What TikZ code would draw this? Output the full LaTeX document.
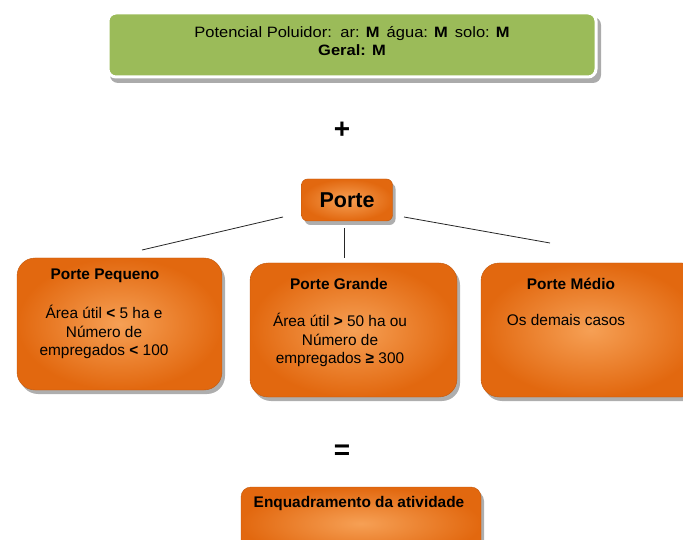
\documentclass[tikz,border=0pt]{standalone}
\usepackage{fontspec}
\setmainfont{Liberation Sans}
\usetikzlibrary{shadows}
\definecolor{greenbox}{HTML}{9BBB59}
\definecolor{orin}{HTML}{F6A055}
\definecolor{orout}{HTML}{E2680F}
\tikzset{
  orbox/.style={rounded corners=#1, inner color=orin, outer color=orout, draw=orout!85!black, line width=0.4pt,
    drop shadow={shadow xshift=3pt, shadow yshift=-4pt, opacity=0.45, fill=black!70}},
  orbox/.default=18pt,
  txt/.style={font=\fontsize{15.4}{18.5}\selectfont, align=center, inner sep=0pt},
  ttl/.style={font=\fontsize{15.4}{18.5}\selectfont\bfseries, align=center, inner sep=0pt},
  sym/.style={font=\fontsize{28}{28}\selectfont\bfseries, inner sep=0pt},
  conn/.style={draw=black!85, line width=0.8pt}
}
\begin{document}
\begin{tikzpicture}[x=1pt,y=-1pt]
\useasboundingbox (0,0) rectangle (683,540);
% top green box
\path[fill=black!55, rounded corners=8pt, opacity=0.6] (110,17) rectangle (601,83);
\node[draw=white, line width=3pt, fill=greenbox, rounded corners=8pt, minimum width=488pt, minimum height=64pt, inner sep=0pt] (top) at (352,45) {};
\node[font=\fontsize{15}{18}\selectfont\addfontfeature{FakeStretch=1.1}, align=center, inner sep=0pt] (toptxt) at (352,41) {Potencial Poluidor:\, ar: \textbf{M}\, água: \textbf{M}\, solo: \textbf{M}\\ \textbf{Geral: M}};
% plus
\node[sym] (plus) at (342,130) {+};
% Porte
\node[orbox=6pt, minimum width=91pt, minimum height=42pt, font=\fontsize{21.5}{22}\selectfont\bfseries] (porte) at (347,200) {Porte};
% boxes
\path[orbox] (17,258) rectangle (222,390);
\path[orbox] (250,263) rectangle (457,397);
\path[orbox] (481,263) rectangle (700,397);
\path[orbox=10pt] (241,487) rectangle (481,560);
\node[ttl] (t1) at (105,276) {Porte Pequeno};
\node[txt, anchor=north] (b1) at (104,305) {Área útil \textbf{<} 5 ha e\\ Número de\\ empregados \textbf{<} 100};
\node[ttl] (t2) at (339,284) {Porte Grande};
\node[txt, anchor=north] (b2) at (340,313) {Área útil \textbf{>} 50 ha ou\\ Número de\\ empregados \textbf{≥} 300};
\node[ttl] (t3) at (571,284) {Porte Médio};
\node[txt] (b3) at (566,320) {Os demais casos};
% equals
\node[sym] (eq) at (342,452) {=};
\node[ttl] (enq) at (359,504) {Enquadramento da atividade};
% connectors
\coordinate (l1a) at (283,217); \coordinate (l1b) at (142,250);
\coordinate (l2a) at (344,228); \coordinate (l2b) at (344,258);
\coordinate (l3a) at (404,217); \coordinate (l3b) at (550,243);
\draw[conn] (l1a) -- (l1b);
\draw[conn] (l2a) -- (l2b);
\draw[conn] (l3a) -- (l3b);
\end{tikzpicture}
\end{document}
